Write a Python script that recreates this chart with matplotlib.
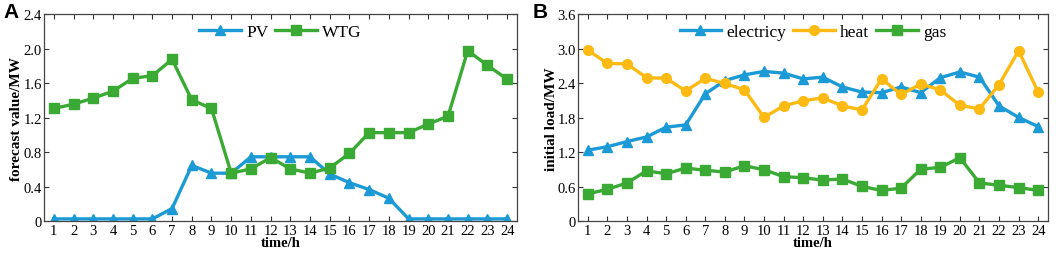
import matplotlib
matplotlib.use("Agg")
import matplotlib.pyplot as plt
import numpy as np

hours = np.arange(1, 25)

# Panel A: forecast values (MW)
pv = [0.03, 0.03, 0.03, 0.03, 0.03, 0.03, 0.15, 0.65, 0.56, 0.56, 0.75, 0.75,
      0.75, 0.75, 0.55, 0.45, 0.37, 0.27, 0.03, 0.03, 0.03, 0.03, 0.03, 0.03]
wtg = [1.31, 1.36, 1.43, 1.51, 1.66, 1.69, 1.88, 1.41, 1.31, 0.56, 0.61, 0.74,
       0.61, 0.56, 0.62, 0.79, 1.03, 1.03, 1.03, 1.13, 1.22, 1.98, 1.81, 1.65]

# Panel B: initial loads (MW)
electricity = [1.24, 1.30, 1.39, 1.47, 1.64, 1.68, 2.22, 2.45, 2.55, 2.61, 2.58, 2.48,
               2.51, 2.34, 2.25, 2.24, 2.34, 2.24, 2.50, 2.60, 2.51, 2.01, 1.81, 1.65]
heat = [2.98, 2.75, 2.74, 2.50, 2.49, 2.27, 2.49, 2.40, 2.29, 1.81, 2.01, 2.10,
        2.15, 2.01, 1.94, 2.48, 2.21, 2.39, 2.29, 2.02, 1.96, 2.38, 2.97, 2.25]
gas = [0.48, 0.56, 0.67, 0.88, 0.83, 0.93, 0.89, 0.86, 0.97, 0.90, 0.78, 0.76,
       0.72, 0.74, 0.61, 0.54, 0.58, 0.91, 0.94, 1.11, 0.67, 0.63, 0.59, 0.54]

ticks_a = [0, 0.4, 0.8, 1.2, 1.6, 2.0, 2.4]
ticklabels_a = ["0", "0.4", "0.8", "1.2", "1.6", "2.0", "2.4"]
ticks_b = [0, 0.6, 1.2, 1.8, 2.4, 3.0, 3.6]
ticklabels_b = ["0", "0.6", "1.2", "1.8", "2.4", "3.0", "3.6"]

blue = "#1B9AD6"
green = "#3AAA35"
yellow = "#FDBA12"
serif = "Liberation Serif"

fig = plt.figure(figsize=(10.59, 2.55), dpi=100)
ax1 = fig.add_axes([0.0415, 0.1275, 0.4467, 0.8118])
ax2 = fig.add_axes([0.5458, 0.1275, 0.4438, 0.8118])

lw = 2.4
ax1.plot(hours, pv, color=blue, lw=lw, marker="^", ms=7, label="PV")
ax1.plot(hours, wtg, color=green, lw=lw, marker="s", ms=6.5, label="WTG")

ax2.plot(hours, electricity, color=blue, lw=lw, marker="^", ms=7, label="electricy")
ax2.plot(hours, heat, color=yellow, lw=lw, marker="o", ms=7, label="heat")
ax2.plot(hours, gas, color=green, lw=lw, marker="s", ms=6.5, label="gas")


def style(ax, ticks, ticklabels, ylabel):
    ax.set_xlim(0.5, 24.5)
    ax.set_ylim(ticks[0], ticks[-1])
    ax.set_xticks(hours)
    ax.set_xticklabels([str(h) for h in hours], fontfamily=serif, fontsize=10.5)
    ax.set_yticks(ticks)
    ax.set_yticklabels(ticklabels, fontfamily=serif, fontsize=10.5)
    ax.tick_params(direction="in", top=True, right=True, length=3.5, width=0.8,
                   color="#333333")
    ax.tick_params(axis="x", pad=2)
    ax.tick_params(axis="y", pad=1.5)
    for s in ax.spines.values():
        s.set_color("#444444")
        s.set_linewidth(0.9)
    ax.set_xlabel("time/h", fontfamily=serif, fontweight="bold", fontsize=10.5, labelpad=-1)
    ax.set_ylabel(ylabel, fontfamily=serif, fontweight="bold", fontsize=11, labelpad=0)
    ax.legend(loc="upper center", bbox_to_anchor=(0.5, 1.03), ncol=3, frameon=False,
              prop={"family": serif, "size": 12.5}, handlelength=2.4,
              handletextpad=0.3, columnspacing=0.4)


style(ax1, ticks_a, ticklabels_a, "forecast value/MW")
style(ax2, ticks_b, ticklabels_b, "initial load/MW")

fig.text(0.003, 0.99, "A", fontfamily="Liberation Sans", fontweight="bold",
         fontsize=15, va="top", ha="left")
fig.text(0.503, 0.99, "B", fontfamily="Liberation Sans", fontweight="bold",
         fontsize=15, va="top", ha="left")

fig.savefig("out.png", dpi=100)
